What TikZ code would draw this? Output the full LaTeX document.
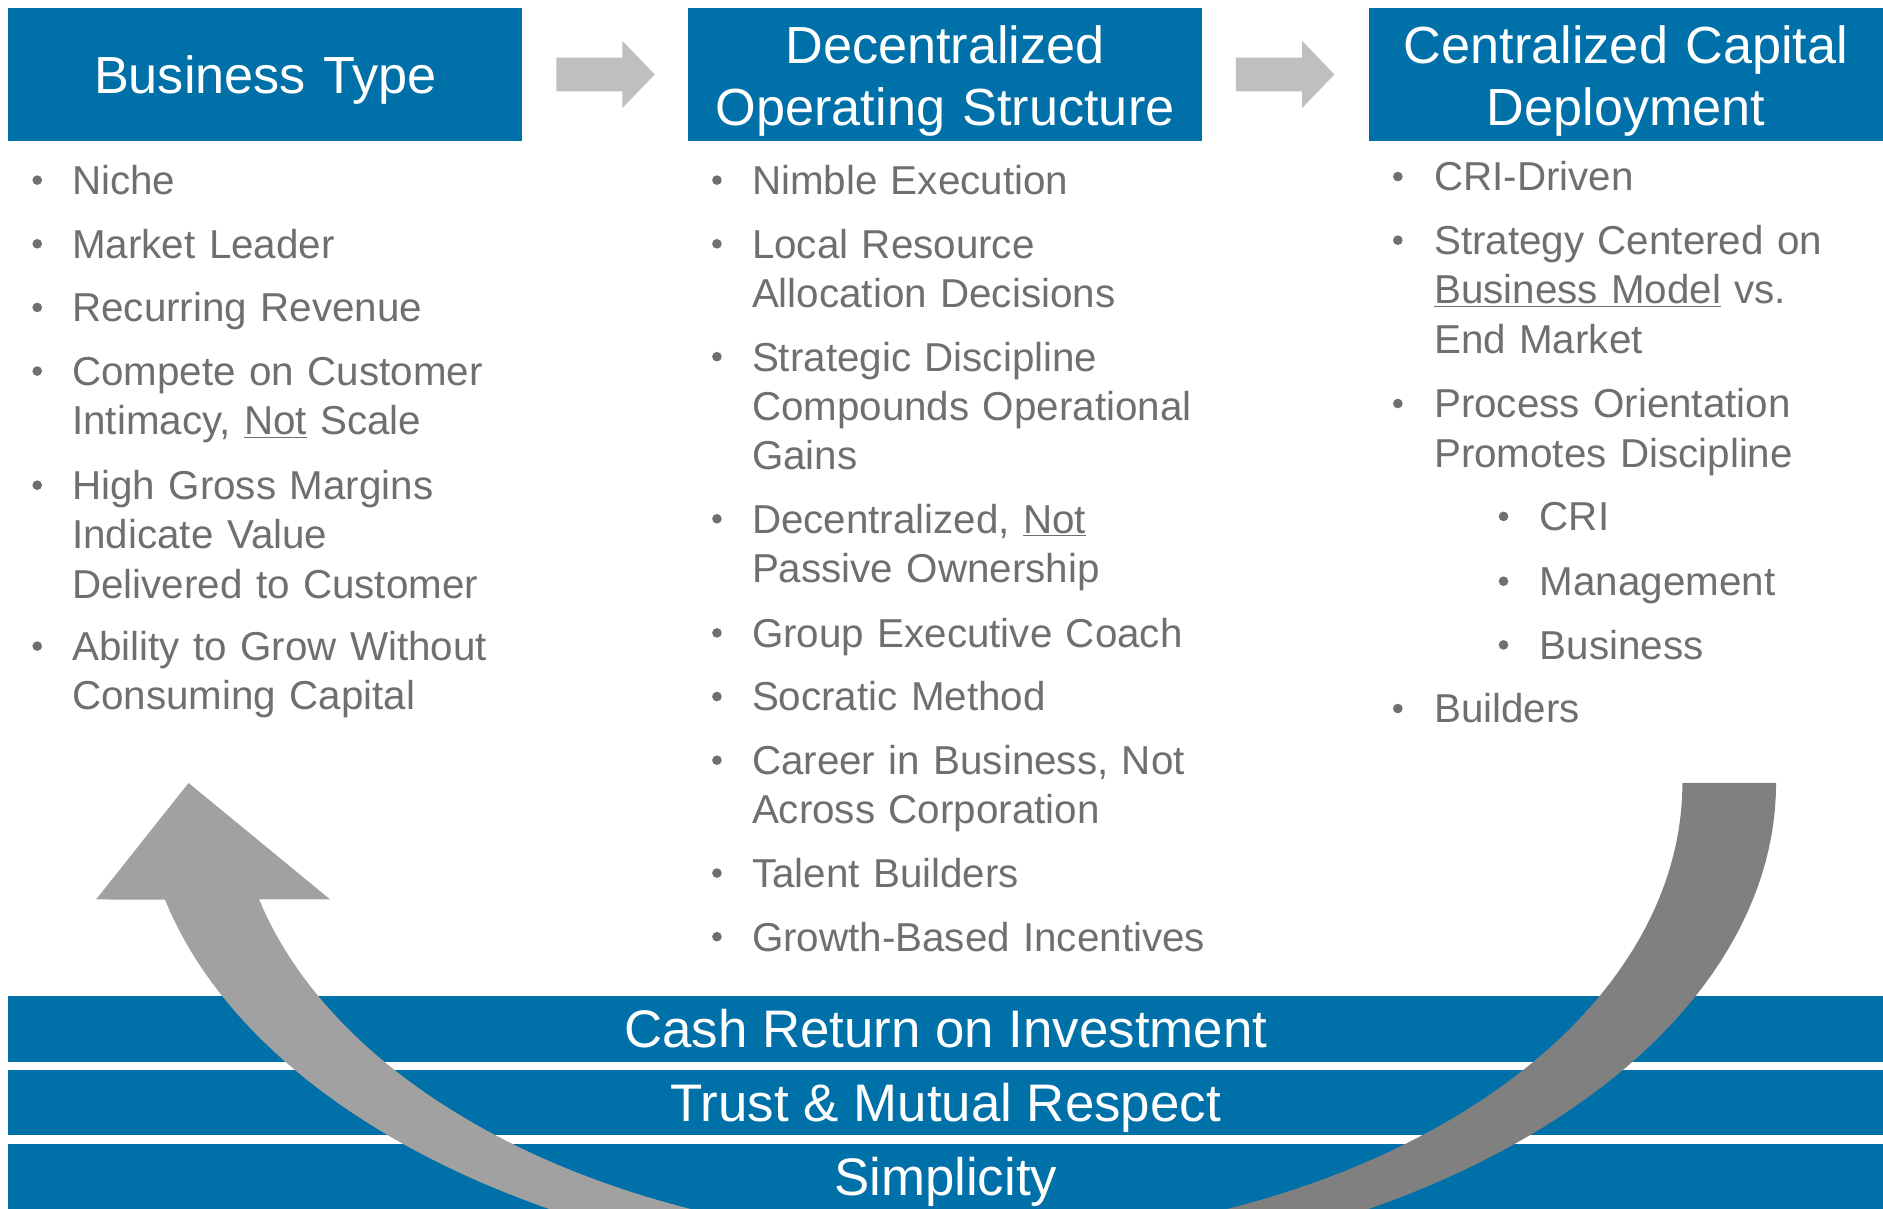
\documentclass[tikz,border=0pt]{standalone}
\usepackage{fontspec}
\setmainfont{Liberation Sans}

\definecolor{dhrblue}{RGB}{0,112,168}
\definecolor{bodygray}{RGB}{110,111,115}
\definecolor{stepgray}{RGB}{191,191,191}
\definecolor{loopdark}{RGB}{128,128,128}
\definecolor{looplight}{RGB}{161,161,161}

\tikzset{
  headbox/.style={fill=dhrblue, text=white, text width=428pt, minimum height=110pt,
    inner sep=0pt, align=center, font=\fontsize{43.5}{52}\selectfont, text height=40pt},
  band/.style={fill=dhrblue, text=white, minimum width=1561pt, inner sep=0pt,
    font=\fontsize{44}{52}\selectfont, text height=40pt, text depth=8.5pt},
  entry/.style={anchor=base west, text width=420pt, align=left, inner sep=0pt,
    text=bodygray, font=\fontsize{33.6}{41}\selectfont},
  bulletdot/.style={fill=bodygray},
  blockarrow/.style={fill=stepgray}
}

\begin{document}
\begin{tikzpicture}[x=1pt,y=-1pt]
\useasboundingbox (0,0) rectangle (1568,1006);
\fill[white] (0,0) rectangle (1568,1006);

% headings
\node[headbox, text depth=8.5pt] (bt) at (221,62) {Business Type};
\node[headbox, text depth=58.5pt] (dos) at (787,62) {Decentralized\\Operating Structure};
\node[headbox, text depth=58.5pt] (ccd) at (1354,62) {Centralized Capital\\Deployment};

\fill[blockarrow] ([xshift=28pt]bt.east) ++(0,-14) -- ++(55,0) -- ++(0,-14) -- ++(27,28)
  -- ++(-27,28) -- ++(0,-14) -- ++(-55,0) -- cycle;
\fill[blockarrow] ([xshift=28pt]dos.east) ++(0,-14) -- ++(55,0) -- ++(0,-14) -- ++(27,28)
  -- ++(-27,28) -- ++(0,-14) -- ++(-55,0) -- cycle;

% values
\node[band, minimum height=55pt] (cri) at (787.5,856.5) {Cash Return on Investment};
\node[band, minimum height=54pt] (trust) at (787.5,918) {Trust \& Mutual Respect};
\node[band, minimum height=54pt] (simp) at (787.5,980) {Simplicity};

% loop arrow
\fill[loopdark] plot[domain=0:90, samples=60] ({798.5+680.5*cos(\x)},{652+410*sin(\x)})
  -- plot[domain=90:0, samples=60] ({798.5+602.5*cos(\x)},{652+382*sin(\x)}) -- cycle;
\fill[looplight] plot[domain=90:166.3, samples=60] ({798.5+680.5*cos(\x)},{652+410*sin(\x)})
  -- (80,749) -- (157,652) -- (275,749)
  -- plot[domain=165.3:90, samples=60] ({798.5+602.5*cos(\x)},{652+382*sin(\x)}) -- cycle;

% business type
\node[entry] (bt1) at (60,162) {Niche};
\node[entry] (bt2) at (60,215) {Market Leader};
\node[entry] (bt3) at (60,268) {Recurring Revenue};
\node[entry] (bt4) at (60,321) {Compete on Customer\\Intimacy, \underline{Not} Scale};
\node[entry] (bt5) at (60,416) {High Gross Margins\\Indicate Value\\Delivered to Customer};
\node[entry] (bt6) at (60,550) {Ability to Grow Without\\Consuming Capital};
\fill[bulletdot] (31,150) circle (4) (31,203) circle (4) (31,256) circle (4)
  (31,309) circle (4) (31,404) circle (4) (31,538) circle (4);

% operating structure
\node[entry] (dos1) at (626,162) {Nimble Execution};
\node[entry] (dos2) at (626,215) {Local Resource\\Allocation Decisions};
\node[entry] (dos3) at (626,309) {Strategic Discipline\\Compounds Operational\\Gains};
\node[entry] (dos4) at (626,444) {Decentralized, \underline{Not}\\Passive Ownership};
\node[entry] (dos5) at (626,539) {Group Executive Coach};
\node[entry] (dos6) at (626,592) {Socratic Method};
\node[entry] (dos7) at (626,645) {Career in Business, Not\\Across Corporation};
\node[entry] (dos8) at (626,739) {Talent Builders};
\node[entry] (dos9) at (626,792) {Growth-Based Incentives};
\fill[bulletdot] (597,150) circle (4) (597,203) circle (4) (597,297) circle (4)
  (597,432) circle (4) (597,527) circle (4) (597,580) circle (4)
  (597,633) circle (4) (597,727) circle (4) (597,780) circle (4);

% capital deployment
\node[entry] (ccd1) at (1194,159) {CRI-Driven};
\node[entry] (ccd2) at (1194,212) {Strategy Centered on\\\underline{Business Model} vs.\\End Market};
\node[entry] (ccd3) at (1194,348) {Process Orientation\\Promotes Discipline};
\node[entry] (ccd4) at (1282,442) {CRI};
\node[entry] (ccd5) at (1282,496) {Management};
\node[entry] (ccd6) at (1282,549) {Business};
\node[entry] (ccd7) at (1194,602) {Builders};
\fill[bulletdot] (1164,147) circle (4) (1164,200) circle (4) (1164,336) circle (4)
  (1252,430) circle (4) (1252,484) circle (4) (1252,537) circle (4) (1164,590) circle (4);
\end{tikzpicture}
\end{document}
